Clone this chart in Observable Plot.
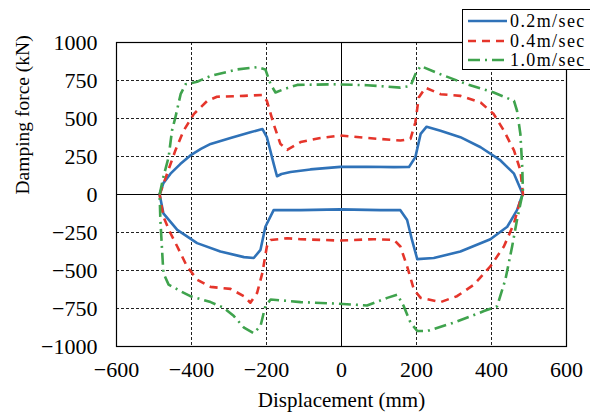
<!DOCTYPE html>
<html><head><meta charset="utf-8">
<script src="https://cdn.jsdelivr.net/npm/d3@7"></script>
<script src="https://cdn.jsdelivr.net/npm/@observablehq/plot@0.6"></script>
<style>
body{margin:0;background:#fff;overflow:hidden;}
#wrap{position:relative;width:590px;height:416px;overflow:hidden;}
#legend{position:absolute;left:462px;top:9px;width:140px;height:59px;border:1.5px solid #000;background:#fff;font-family:"Liberation Serif",serif;font-size:18px;line-height:18px;color:#000;}
.row{position:absolute;left:4px;height:18px;display:flex;align-items:center;white-space:nowrap;}
.row svg{width:40px;height:10px;margin-right:3px;flex:none;}
.row span{letter-spacing:1.4px;}
</style>
</head><body>
<div id="wrap"></div>
<script>
const xTicks = [-600, -400, -200, 0, 200, 400, 600];
const yTicks = [-1000, -750, -500, -250, 0, 250, 500, 750, 1000];
const seriesNames = ["0.2m/sec", "0.4m/sec", "1.0m/sec"];
const seriesColors = ["#2f72b8", "#e5352b", "#3fa34d"];
const seriesDash = [null, "8,6", "12,5,2,5"];

const loop02 = [[-485,0],[-475,75],[-456,137],[-430,200],[-403,257],[-375,300],[-349,333],[-296,372],[-243,409],[-211,431],[-199,377],[-181,203],[-172,120],[-160,135],[-136,148],[-83,165],[-3,182],[68,183],[140,180],[180,181],[197,246],[211,399],[227,446],[264,420],[317,377],[371,311],[424,224],[460,137],[482,10],[484,0],
[482,-5],[468,-103],[442,-212],[397,-294],[317,-375],[246,-418],[202,-425],[188,-299],[175,-168],[157,-103],[104,-103],[-3,-98],[-109,-103],[-181,-103],[-203,-212],[-216,-364],[-234,-418],[-260,-412],[-323,-375],[-385,-320],[-438,-233],[-475,-124],[-485,0]];

const loop04 = [[-485,0],[-465,137],[-443,290],[-421,420],[-394,529],[-358,616],[-332,643],[-260,649],[-211,655],[-199,616],[-181,464],[-163,333],[-145,294],[-109,345],[-60,370],[-3,388],[68,372],[157,355],[184,366],[197,475],[206,638],[224,703],[264,660],[317,649],[371,605],[406,529],[433,420],[460,290],[477,159],[484,0],
[477,-37],[460,-190],[433,-342],[397,-473],[353,-593],[308,-669],[264,-708],[211,-680],[193,-625],[175,-473],[157,-342],[140,-299],[86,-294],[-3,-303],[-109,-294],[-145,-288],[-189,-299],[-199,-342],[-211,-516],[-225,-647],[-243,-712],[-260,-669],[-296,-621],[-349,-608],[-385,-560],[-412,-473],[-438,-342],[-456,-255],[-475,-146],[-485,0]];

const loop10 = [[-485,0],[-475,115],[-461,246],[-452,420],[-443,507],[-429,660],[-416,725],[-385,742],[-349,780],[-278,823],[-225,838],[-203,823],[-189,725],[-176,671],[-154,693],[-118,721],[-21,725],[68,719],[157,703],[184,714],[197,791],[211,845],[264,791],[335,725],[406,671],[460,616],[468,551],[477,399],[482,180],[484,0],
[482,-5],[468,-168],[455,-342],[437,-560],[415,-735],[380,-767],[300,-843],[229,-898],[202,-898],[184,-843],[166,-735],[149,-658],[122,-680],[68,-730],[-21,-717],[-109,-708],[-136,-702],[-189,-691],[-203,-735],[-216,-865],[-234,-913],[-260,-876],[-287,-800],[-314,-745],[-349,-708],[-403,-669],[-429,-636],[-461,-593],[-475,-516],[-479,-342],[-483,-168],[-485,0]];

const loops = [loop02, loop04, loop10];
const xGrid = xTicks.filter(d => d !== 0 && Math.abs(d) !== 600);
const yGrid = yTicks.filter(d => d !== 0 && Math.abs(d) !== 1000);
const fmt = d => d < 0 ? "\u2212" + Math.abs(d) : String(d);

const lineMarks = loops.map((pts, i) => Plot.line(pts, {
  x: d => d[0], y: d => d[1],
  stroke: seriesColors[i], strokeWidth: 2.6,
  strokeDasharray: seriesDash[i], strokeLinejoin: "round", strokeLinecap: "butt"
}));

const chart = Plot.plot({
  width: 590, height: 416,
  marginLeft: 116, marginRight: 24, marginTop: 42, marginBottom: 70,
  style: {fontFamily: "'Liberation Serif', serif", fontSize: "22px", color: "#000", background: "#fff"},
  x: {domain: [-600, 600]},
  y: {domain: [-1000, 1000]},
  marks: [
    Plot.ruleX(xGrid, {stroke: "#222", strokeWidth: 1, strokeDasharray: "3,2"}),
    Plot.ruleY(yGrid, {stroke: "#222", strokeWidth: 1, strokeDasharray: "3,2"}),
    Plot.ruleX([0], {stroke: "#000", strokeWidth: 1}),
    Plot.ruleY([0], {stroke: "#000", strokeWidth: 1}),
    ...lineMarks,
    Plot.frame({stroke: "#000", strokeWidth: 1.2}),
    Plot.axisX(xTicks, {tickSize: 0, tickPadding: 15, label: null, fill: "#000", tickFormat: fmt}),
    Plot.axisY(yTicks, {tickSize: 0, tickPadding: 19, label: null, fill: "#000", tickFormat: fmt}),
    Plot.text(["Displacement (mm)"], {frameAnchor: "bottom", dy: 60, text: d => d, fontSize: 21, fill: "#000"}),
    Plot.text(["Damping force (kN)"], {frameAnchor: "left", dx: -94, rotate: -90, text: d => d, fontSize: 19.5, fill: "#000"})
  ]
});
const wrap = document.getElementById("wrap");
wrap.appendChild(chart);

// legend overlay
const legend = document.createElement("div");
legend.id = "legend";
seriesNames.forEach((name, i) => {
  const row = document.createElement("div");
  row.className = "row";
  row.style.top = (2 + i * 19.5) + "px";
  const dash = seriesDash[i] ? `stroke-dasharray="${seriesDash[i]}"` : "";
  row.innerHTML = `<svg viewBox="0 0 40 10"><line x1="1" y1="5" x2="40" y2="5" stroke="${seriesColors[i]}" stroke-width="2.6" ${dash}/></svg><span>${name}</span>`;
  legend.appendChild(row);
});
wrap.appendChild(legend);
</script>
</body></html>
